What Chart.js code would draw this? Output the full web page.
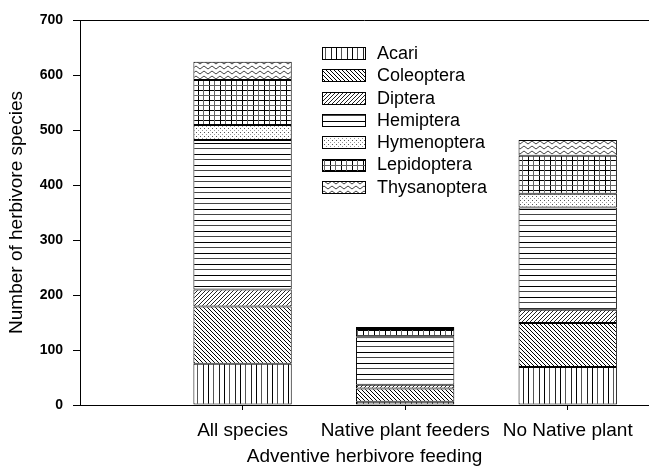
<!DOCTYPE html>
<html>
<head>
<meta charset="utf-8">
<script src="https://cdn.jsdelivr.net/npm/chart.js@4.4.1/dist/chart.umd.min.js"></script>
<style>
  html, body { margin: 0; padding: 0; background: #fff; }
  #wrap { width: 649px; height: 466px; }
</style>
</head>
<body>
<div id="wrap"><canvas id="c" width="649" height="466"></canvas></div>
<script>
// ---- data ----
const categories = ['All species', 'Native plant feeders', 'No Native plant'];
const seriesNames = ['Acari', 'Coleoptera', 'Diptera', 'Hemiptera', 'Hymenoptera', 'Lepidoptera', 'Thysanoptera'];
const acari        = [75, 6, 69];
const coleoptera   = [104, 24, 80];
const diptera      = [31, 7, 24];
const hemiptera    = [272, 86, 186];
const hymenoptera  = [27, 2, 25];
const lepidoptera  = [82, 13, 69];
const thysanoptera = [33, 4, 29];
const yTicks = [0, 100, 200, 300, 400, 500, 600, 700];
const xTitle = 'Adventive herbivore feeding';
const yTitle = 'Number of herbivore species';

const seriesValues = [acari, coleoptera, diptera, hemiptera, hymenoptera, lepidoptera, thysanoptera];

// ---- patterns ----
const canvas = document.getElementById('c');
const mainCtx = canvas.getContext('2d');
function makePattern(w, h, draw) {
  const c = document.createElement('canvas');
  c.width = w; c.height = h;
  const g = c.getContext('2d');
  g.fillStyle = '#fff';
  g.fillRect(0, 0, w, h);
  draw(g, w, h);
  return mainCtx.createPattern(c, 'repeat');
}
const patterns = [
  // Acari: vertical lines
  makePattern(16, 1, g => { g.fillStyle = '#000'; g.fillRect(0, 0, 1, 1); g.fillStyle = '#555'; g.fillRect(5, 0, 1, 1); g.fillStyle = '#222'; g.fillRect(11, 0, 1, 1); }),
  // Coleoptera: back diagonal
  makePattern(4, 4, g => { g.fillStyle = '#000'; for (let i = 0; i < 4; i++) g.fillRect(i, i, 1, 1); }),
  // Diptera: forward diagonal
  makePattern(4, 4, g => { g.fillStyle = '#222'; for (let i = 0; i < 4; i++) g.fillRect(3 - i, i, 1, 1); }),
  // Hemiptera: horizontal lines
  makePattern(1, 11, g => { g.fillStyle = '#000'; g.fillRect(0, 0, 1, 1); g.fillStyle = '#444'; g.fillRect(0, 5, 1, 1); }),
  // Hymenoptera: dots
  makePattern(4, 4, g => { g.fillStyle = '#555'; g.fillRect(0, 0, 1, 1); g.fillStyle = '#999'; g.fillRect(2, 2, 1, 1); }),
  // Lepidoptera: grid
  makePattern(11, 10, g => {
    g.fillStyle = '#000'; g.fillRect(0, 0, 11, 1); g.fillRect(0, 0, 1, 10);
    g.fillStyle = '#666'; g.fillRect(0, 5, 11, 1); g.fillRect(5, 0, 1, 10);
  }),
  // Thysanoptera: zigzag
  makePattern(8, 5, g => { g.strokeStyle = '#444'; g.lineWidth = 1; g.beginPath(); g.moveTo(0, 4); g.lineTo(4, 1); g.lineTo(8, 4); g.stroke(); })
];

const datasets = seriesNames.map((name, si) => ({
  label: name,
  data: seriesValues[si].map((v, ci) => ({ x: ci + 1, y: v })),
  backgroundColor: patterns[si],
  borderColor: '#000',
  borderWidth: 1,
  borderSkipped: false,
  categoryPercentage: 1,
  barPercentage: 0.605
}));

// ---- plugins ----
const frameAndLegend = {
  id: 'frameAndLegend',
  afterDraw(chart) {
    const ctx = chart.ctx;
    const a = chart.chartArea;
    ctx.save();
    ctx.strokeStyle = '#000';
    ctx.lineWidth = 1;
    ctx.beginPath();
    ctx.moveTo(a.left, a.top + 0.5);
    ctx.lineTo(a.right, a.top + 0.5);
    ctx.stroke();
    // legend
    const x0 = 322, w = 43, h = 12, y0 = 53, step = 22.3;
    ctx.font = '18px "Liberation Sans", Arial, sans-serif';
    ctx.textBaseline = 'middle';
    ctx.textAlign = 'left';
    chart.data.datasets.forEach((ds, i) => {
      const cy = y0 + i * step;
      const top = Math.round(cy - h / 2);
      ctx.fillStyle = ds.backgroundColor;
      ctx.fillRect(x0, top, w, h);
      ctx.strokeStyle = '#000';
      ctx.strokeRect(x0 + 0.5, top + 0.5, w, h);
      ctx.fillStyle = '#000';
      ctx.fillText(ds.label, 377, cy + 1);
    });
    ctx.restore();
  }
};

new Chart(canvas, {
  type: 'bar',
  data: { datasets },
  options: {
    responsive: false,
    animation: false,
    devicePixelRatio: 1,
    layout: { padding: { top: 20, right: 0, left: 0, bottom: 0 } },
    plugins: { legend: { display: false }, tooltip: { enabled: false } },
    scales: {
      x: {
        type: 'linear',
        stacked: true,
        min: 0,
        max: 3.5,
        offset: false,
        afterBuildTicks: s => { s.ticks = categories.map((_, i) => ({ value: i + 1 })); },
        afterFit: s => { s.height = 61; },
        ticks: {
          callback: v => categories[v - 1] || '',
          color: '#000',
          font: { family: '"Liberation Sans", Arial, sans-serif', size: 19 },
          padding: 9,
          maxRotation: 0,
          autoSkip: false
        },
        grid: { display: true, drawOnChartArea: false, drawTicks: true, tickLength: 5, color: '#000', offset: false },
        border: { display: true, color: '#000', width: 1 },
        title: {
          display: true, text: xTitle, color: '#000',
          font: { family: '"Liberation Sans", Arial, sans-serif', size: 19, lineHeight: 1 },
          padding: { top: 0, bottom: 0 }
        }
      },
      y: {
        stacked: true,
        min: 0,
        max: 700,
        afterBuildTicks: s => { s.ticks = yTicks.map(v => ({ value: v })); },
        afterFit: s => { s.width = 80; },
        ticks: {
          color: '#000',
          font: { family: '"Liberation Sans", Arial, sans-serif', size: 14, weight: 'bold' },
          padding: 10
        },
        grid: { display: true, drawOnChartArea: false, drawTicks: true, tickLength: 7, color: '#000' },
        border: { display: true, color: '#000', width: 1 },
        title: {
          display: true, text: yTitle, color: '#000',
          font: { family: '"Liberation Sans", Arial, sans-serif', size: 19, lineHeight: 1 },
          padding: { top: 7, bottom: 0 }
        }
      }
    }
  },
  plugins: [frameAndLegend]
});
</script>
</body>
</html>
